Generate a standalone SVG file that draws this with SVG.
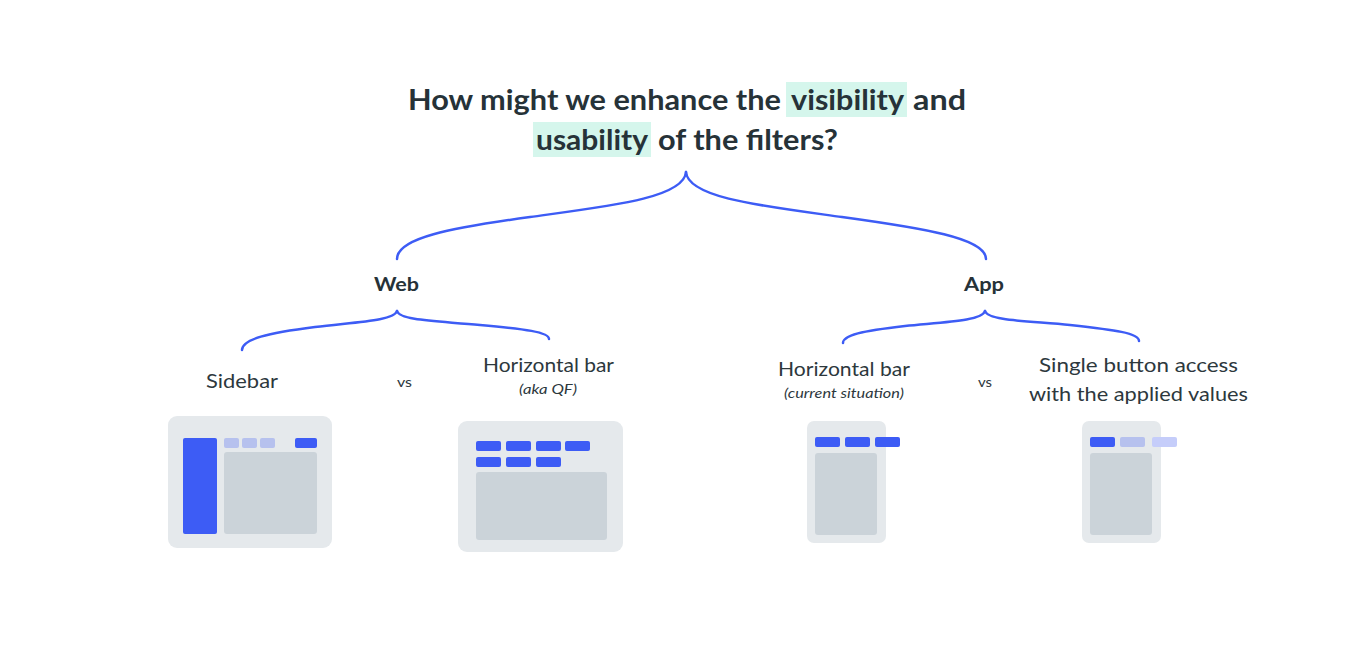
<svg xmlns="http://www.w3.org/2000/svg" width="1348" height="654" viewBox="0 0 1348 654">
<style>
.t{font-family:"Lato","Open Sans","Liberation Sans",sans-serif;fill:#263238}
.title{font-size:28px;font-weight:700}
.h{fill:#d5f6ec}
.lbl{font-size:19px;font-weight:700}
.opt{font-size:20px;font-weight:400;fill:#2d383d}
.sub{font-size:14px;font-style:italic;fill:#2d383d}
.vs{font-size:14px;fill:#2d383d}
.card{fill:#e5e9ec}
.gray{fill:#cbd3d9}
.blue{fill:#3d5cf5}
.lb{fill:#b6c1ee}
.lb2{fill:#c5cdfa}
.brace{fill:none;stroke:#3d5cf5;stroke-width:2.5;stroke-linecap:round}
</style>
<rect width="1348" height="654" fill="#ffffff"/>
<g id="title">
<rect class="h" x="786" y="82" width="121" height="35"/>
<rect class="h" x="533" y="122" width="118" height="35"/>
<text class="t title" x="408" y="110" textLength="373" lengthAdjust="spacingAndGlyphs">How might we enhance the</text>
<text class="t title" x="791" y="110" textLength="113" lengthAdjust="spacingAndGlyphs">visibility</text>
<text class="t title" x="913" y="110" textLength="53" lengthAdjust="spacingAndGlyphs">and</text>
<text class="t title" x="536" y="150" textLength="112" lengthAdjust="spacingAndGlyphs">usability</text>
<text class="t title" x="658" y="150" textLength="180" lengthAdjust="spacingAndGlyphs">of the filters?</text>
</g>
<g id="connectors">
<path class="brace" d="M686,172 C684,198 610,206 530,217 C450,228 397,238 397,259"/>
<path class="brace" d="M686,172 C688,198 762,206 842,217 C922,228 986,238 986,259"/>
<path class="brace" d="M397,311 C394,321 355,322 315,327 C268,333 242,339 242,350"/>
<path class="brace" d="M397,311 C400,321 440,321 480,325 C525,329 549,332 549,339"/>
<path class="brace" d="M985,311 C982,321 945,322 905,326 C862,331 843,335 843,343"/>
<path class="brace" d="M985,311 C988,321 1030,321 1070,325 C1115,330 1139,333 1139,341"/>
</g>
<g id="web">
<text class="t lbl" x="374" y="291" textLength="45" lengthAdjust="spacingAndGlyphs">Web</text>
</g>
<g id="app">
<text class="t lbl" x="964" y="291" textLength="40" lengthAdjust="spacingAndGlyphs">App</text>
</g>
<g id="web-sidebar">
<text class="t opt" x="206" y="388" textLength="72" lengthAdjust="spacingAndGlyphs">Sidebar</text>
<rect class="card" x="168" y="416" width="164" height="132" rx="9"/>
<rect class="blue" x="183" y="438" width="34" height="96" rx="2"/>
<rect class="lb" x="224" y="438" width="15" height="10" rx="2"/>
<rect class="lb" x="242" y="438" width="15" height="10" rx="2"/>
<rect class="lb" x="260" y="438" width="15" height="10" rx="2"/>
<rect class="blue" x="295" y="438" width="22" height="10" rx="2"/>
<rect class="gray" x="224" y="452" width="93" height="82" rx="3"/>
</g>
<g id="web-vs">
<text class="t vs" x="397" y="387" textLength="15" lengthAdjust="spacingAndGlyphs">vs</text>
</g>
<g id="web-hbar">
<text class="t opt" x="483" y="372" textLength="131" lengthAdjust="spacingAndGlyphs">Horizontal bar</text>
<text class="t sub" x="519" y="394" textLength="58" lengthAdjust="spacingAndGlyphs">(aka QF)</text>
<rect class="card" x="458" y="421" width="165" height="131" rx="9"/>
<rect class="blue" x="476" y="441" width="25" height="10" rx="2"/>
<rect class="blue" x="506" y="441" width="25" height="10" rx="2"/>
<rect class="blue" x="536" y="441" width="25" height="10" rx="2"/>
<rect class="blue" x="565" y="441" width="25" height="10" rx="2"/>
<rect class="blue" x="476" y="457" width="25" height="10" rx="2"/>
<rect class="blue" x="506" y="457" width="25" height="10" rx="2"/>
<rect class="blue" x="536" y="457" width="25" height="10" rx="2"/>
<rect class="gray" x="476" y="472" width="131" height="68" rx="3"/>
</g>
<g id="app-hbar">
<text class="t opt" x="778" y="376" textLength="132" lengthAdjust="spacingAndGlyphs">Horizontal bar</text>
<text class="t sub" x="784" y="398" textLength="120" lengthAdjust="spacingAndGlyphs">(current situation)</text>
<rect class="card" x="807" y="421" width="79" height="122" rx="7"/>
<rect class="blue" x="815" y="437" width="25" height="10" rx="2"/>
<rect class="blue" x="845" y="437" width="25" height="10" rx="2"/>
<rect class="blue" x="875" y="437" width="25" height="10" rx="2"/>
<rect class="gray" x="815" y="453" width="62" height="82" rx="3"/>
</g>
<g id="app-vs">
<text class="t vs" x="978" y="387" textLength="14" lengthAdjust="spacingAndGlyphs">vs</text>
</g>
<g id="app-single">
<text class="t opt" x="1039" y="372" textLength="199" lengthAdjust="spacingAndGlyphs">Single button access</text>
<text class="t opt" x="1029" y="401" textLength="219" lengthAdjust="spacingAndGlyphs">with the applied values</text>
<rect class="card" x="1082" y="421" width="79" height="122" rx="7"/>
<rect class="blue" x="1090" y="437" width="25" height="10" rx="2"/>
<rect class="lb" x="1120" y="437" width="25" height="10" rx="2"/>
<rect class="lb2" x="1152" y="437" width="25" height="10" rx="2"/>
<rect class="gray" x="1090" y="453" width="62" height="82" rx="3"/>
</g>
</svg>
